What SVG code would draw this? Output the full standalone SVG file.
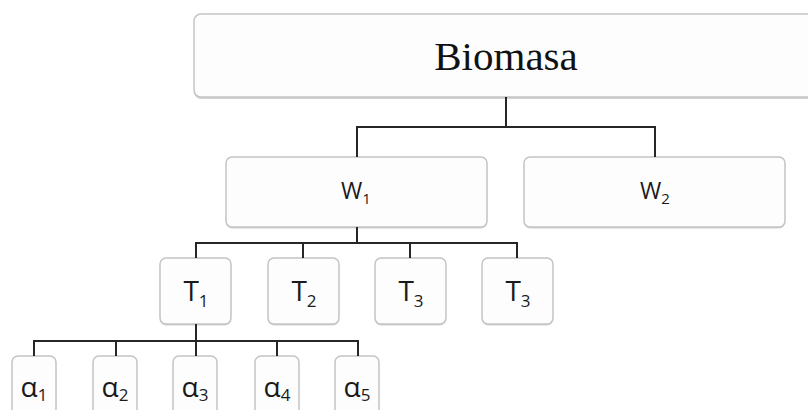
<svg xmlns="http://www.w3.org/2000/svg" width="808" height="410" viewBox="0 0 808 410">
<defs>
<style>
.box{fill:#fdfdfd;stroke:#c4c4c4;stroke-width:1.5}
.sh{fill:#d2d2d2}
.ln{fill:none;stroke:#262626;stroke-width:2}
.lbl{font-family:"Open Sans","Liberation Sans",sans-serif;fill:#1a1a1a;text-anchor:middle}
.title{font-family:"Liberation Serif","Times New Roman",serif;font-size:41px;fill:#111;text-anchor:middle}
</style>
</defs>
<rect width="808" height="410" fill="#ffffff"/>
<g id="biomasa">
<rect class="sh" x="194" y="16" width="640" height="83" rx="7"/>
<rect class="box" x="194" y="14" width="640" height="83" rx="7"/>
<text class="title" x="506" y="70">Biomasa</text>
</g>
<g id="w1">
<rect class="sh" x="226" y="158.5" width="261" height="70" rx="6"/>
<rect class="box" x="226" y="157" width="261" height="70" rx="6"/>
<text class="lbl" x="356" y="199" font-size="23">W<tspan font-size="15" dy="5">1</tspan></text>
</g>
<g id="w2">
<rect class="sh" x="524" y="158.5" width="261" height="70" rx="6"/>
<rect class="box" x="524" y="157" width="261" height="70" rx="6"/>
<text class="lbl" x="655" y="199" font-size="23">W<tspan font-size="15" dy="5">2</tspan></text>
</g>
<g id="t1">
<rect class="sh" x="160" y="259.5" width="71" height="66" rx="6"/>
<rect class="box" x="160" y="258" width="71" height="66" rx="6"/>
<text class="lbl" x="196" y="301" font-size="28">T<tspan font-size="17" dy="6">1</tspan></text>
</g>
<g id="t2">
<rect class="sh" x="268" y="259.5" width="71" height="66" rx="6"/>
<rect class="box" x="268" y="258" width="71" height="66" rx="6"/>
<text class="lbl" x="304" y="301" font-size="28">T<tspan font-size="17" dy="6">2</tspan></text>
</g>
<g id="t3">
<rect class="sh" x="375" y="259.5" width="71" height="66" rx="6"/>
<rect class="box" x="375" y="258" width="71" height="66" rx="6"/>
<text class="lbl" x="411" y="301" font-size="28">T<tspan font-size="17" dy="6">3</tspan></text>
</g>
<g id="t4">
<rect class="sh" x="482" y="259.5" width="71" height="66" rx="6"/>
<rect class="box" x="482" y="258" width="71" height="66" rx="6"/>
<text class="lbl" x="518" y="301" font-size="28">T<tspan font-size="17" dy="6">3</tspan></text>
</g>
<g id="a1">
<rect class="box" x="12" y="356" width="44" height="64" rx="6"/>
<text class="lbl" x="34" y="397" font-size="28">α<tspan font-size="17" dy="4">1</tspan></text>
</g>
<g id="a2">
<rect class="box" x="93" y="356" width="44" height="64" rx="6"/>
<text class="lbl" x="115" y="397" font-size="28">α<tspan font-size="17" dy="4">2</tspan></text>
</g>
<g id="a3">
<rect class="box" x="173" y="356" width="44" height="64" rx="6"/>
<text class="lbl" x="195" y="397" font-size="28">α<tspan font-size="17" dy="4">3</tspan></text>
</g>
<g id="a4">
<rect class="box" x="255" y="356" width="44" height="64" rx="6"/>
<text class="lbl" x="277" y="397" font-size="28">α<tspan font-size="17" dy="4">4</tspan></text>
</g>
<g id="a5">
<rect class="box" x="335" y="356" width="44" height="64" rx="6"/>
<text class="lbl" x="357" y="397" font-size="28">α<tspan font-size="17" dy="4">5</tspan></text>
</g>
<g id="connectors">
<path class="ln" d="M506 97V127M357 127H655M357 126V157M655 126V157"/>
<path class="ln" d="M357 227V243M196 243H517M196 242V258M303 243V258M410 243V258M517 242V258"/>
<path class="ln" d="M196 324V341M34 341H358M34 340V356M116 341V356M196 341V356M277 341V356M358 340V356"/>
</g>
</svg>
